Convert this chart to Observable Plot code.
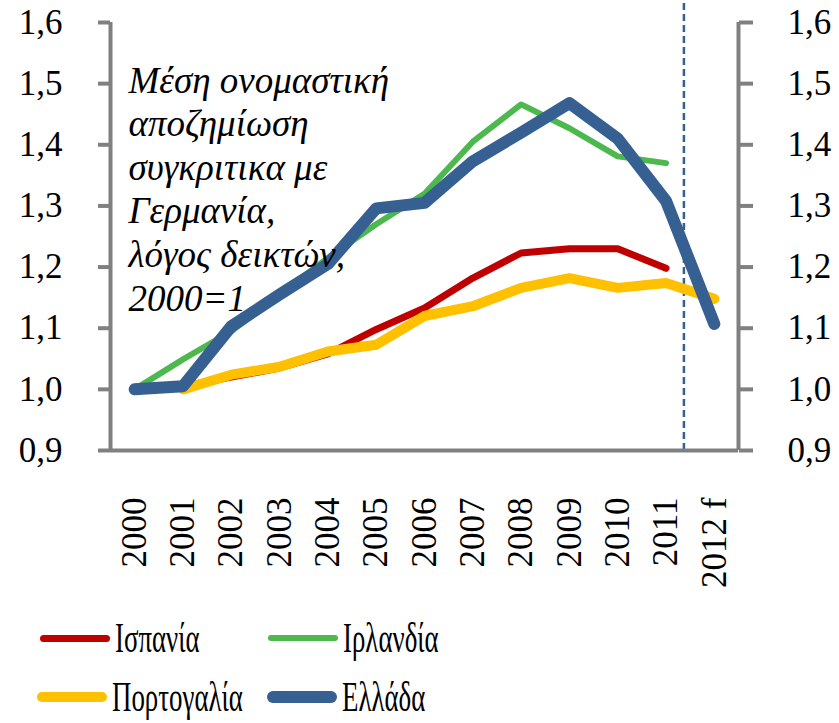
<!DOCTYPE html>
<html>
<head>
<meta charset="utf-8">
<script src="https://cdn.jsdelivr.net/npm/d3@7"></script>
<script src="https://cdn.jsdelivr.net/npm/@observablehq/plot@0.6"></script>
<style>
  body { margin: 0; background: #fff; }
  #legend { position: relative; width: 839px; height: 118px; font-family: "Liberation Serif", "DejaVu Serif", "Times New Roman", serif; }
  .item { position: absolute; display: flex; align-items: center; height: 50px; }
  .sw { display: inline-block; width: 70px; border-radius: 6px; }
  .lab { display: inline-block; font-size: 42px; transform: scaleX(0.64); transform-origin: left center; white-space: nowrap; margin-left: 5px; }
  #chart svg text { font-family: "Liberation Serif", "DejaVu Serif", "Times New Roman", serif; }
</style>
</head>
<body>
<div id="chart"></div>
<div id="legend"></div>
<script>
const years = [2000, 2001, 2002, 2003, 2004, 2005, 2006, 2007, 2008, 2009, 2010, 2011, 2012];
const yearLabels = ["2000", "2001", "2002", "2003", "2004", "2005", "2006", "2007", "2008", "2009", "2010", "2011", "2012 f"];
const spain    = [1.000, 1.005, 1.020, 1.035, 1.058, 1.098, 1.133, 1.182, 1.223, 1.230, 1.230, 1.198, null];
const ireland  = [1.000, 1.049, 1.095, 1.155, 1.215, 1.270, 1.320, 1.405, 1.466, 1.427, 1.381, 1.370, null];
const portugal = [null, 1.000, 1.024, 1.037, 1.062, 1.073, 1.120, 1.136, 1.166, 1.182, 1.166, 1.174, 1.148];
const greece   = [1.000, 1.005, 1.103, 1.155, 1.205, 1.296, 1.305, 1.373, 1.420, 1.468, 1.410, 1.308, 1.107];
const yTicks = [0.9, 1.0, 1.1, 1.2, 1.3, 1.4, 1.5, 1.6];
const forecastSplit = 2011.37;
const annotation = "Μέση ονομαστική\nαποζημίωση\nσυγκριτικα με\nΓερμανία,\nλόγος δεικτών,\n2000=1";

const series = [
  {name: "Ισπανία", values: spain, color: "#C00000", width: 7},
  {name: "Ιρλανδία", values: ireland, color: "#4DB84D", width: 6},
  {name: "Πορτογαλία", values: portugal, color: "#FFC000", width: 10},
  {name: "Ελλάδα", values: greece, color: "#366092", width: 12}
];
const drawOrder = ["Ισπανία", "Πορτογαλία", "Ιρλανδία", "Ελλάδα"];

const grey = "#808080";
const serifFont = "'Liberation Serif', 'DejaVu Serif', 'Times New Roman', serif";
const fmt = d => d.toFixed(1).replace(".", ",");

const lineMarks = drawOrder.map(n => {
  const s = series.find(t => t.name === n);
  const data = years.map((y, i) => ({year: y, value: s.values[i]})).filter(d => d.value != null);
  return Plot.line(data, {x: "year", y: "value", stroke: s.color, strokeWidth: s.width,
    strokeLinecap: "round", strokeLinejoin: "round"});
});

const chart = Plot.plot({
  width: 839,
  height: 605,
  marginLeft: 110,
  marginRight: 101,
  marginTop: 22,
  marginBottom: 155,
  style: {fontFamily: serifFont, fontSize: "35px", background: "#fff", color: "#000"},
  x: {domain: [1999.5, 2012.5]},
  y: {domain: [0.9, 1.6]},
  marks: [
    Plot.ruleX([forecastSplit], {y1: 0.9, y2: 1.636, stroke: "#366092", strokeWidth: 2.5, strokeDasharray: "7,4"}),
    ...lineMarks,
    Plot.ruleX([1999.5, 2012.5], {y1: 0.9, y2: 1.6, stroke: grey, strokeWidth: 4}),
    Plot.ruleY([0.9], {stroke: grey, strokeWidth: 4}),
    Plot.axisY(yTicks, {anchor: "left", tickSize: 12, tickPadding: 36, stroke: grey, strokeWidth: 4, fill: "#000", tickFormat: fmt, label: null}),
    Plot.axisY(yTicks, {anchor: "right", tickSize: 14, tickPadding: 35, stroke: grey, strokeWidth: 4, fill: "#000", tickFormat: fmt, label: null}),
    Plot.axisX(years, {tickSize: 0, tickPadding: 47, tickRotate: -90, fontSize: 35, fill: "#000",
      tickFormat: d => yearLabels[years.indexOf(d)], label: null}),
    Plot.text([annotation], {frameAnchor: "top-left", dx: 18, dy: 39, textAnchor: "start", lineAnchor: "top",
      fontStyle: "italic", fontSize: 37, lineHeight: 1.18, fill: "#000"})
  ]
});
document.getElementById("chart").appendChild(chart);

// Legend below the chart
const legendPos = [
  {name: "Ισπανία", left: 40, top: 8},
  {name: "Ιρλανδία", left: 268, top: 8},
  {name: "Πορτογαλία", left: 37, top: 67},
  {name: "Ελλάδα", left: 267, top: 67}
];
const legend = d3.select("#legend");
legendPos.forEach(p => {
  const s = series.find(t => t.name === p.name);
  const item = legend.append("div").attr("class", "item").style("left", p.left + "px").style("top", p.top + "px");
  item.append("span").attr("class", "sw").style("height", s.width + "px").style("background", s.color);
  item.append("span").attr("class", "lab").text(s.name);
});
</script>
</body>
</html>
